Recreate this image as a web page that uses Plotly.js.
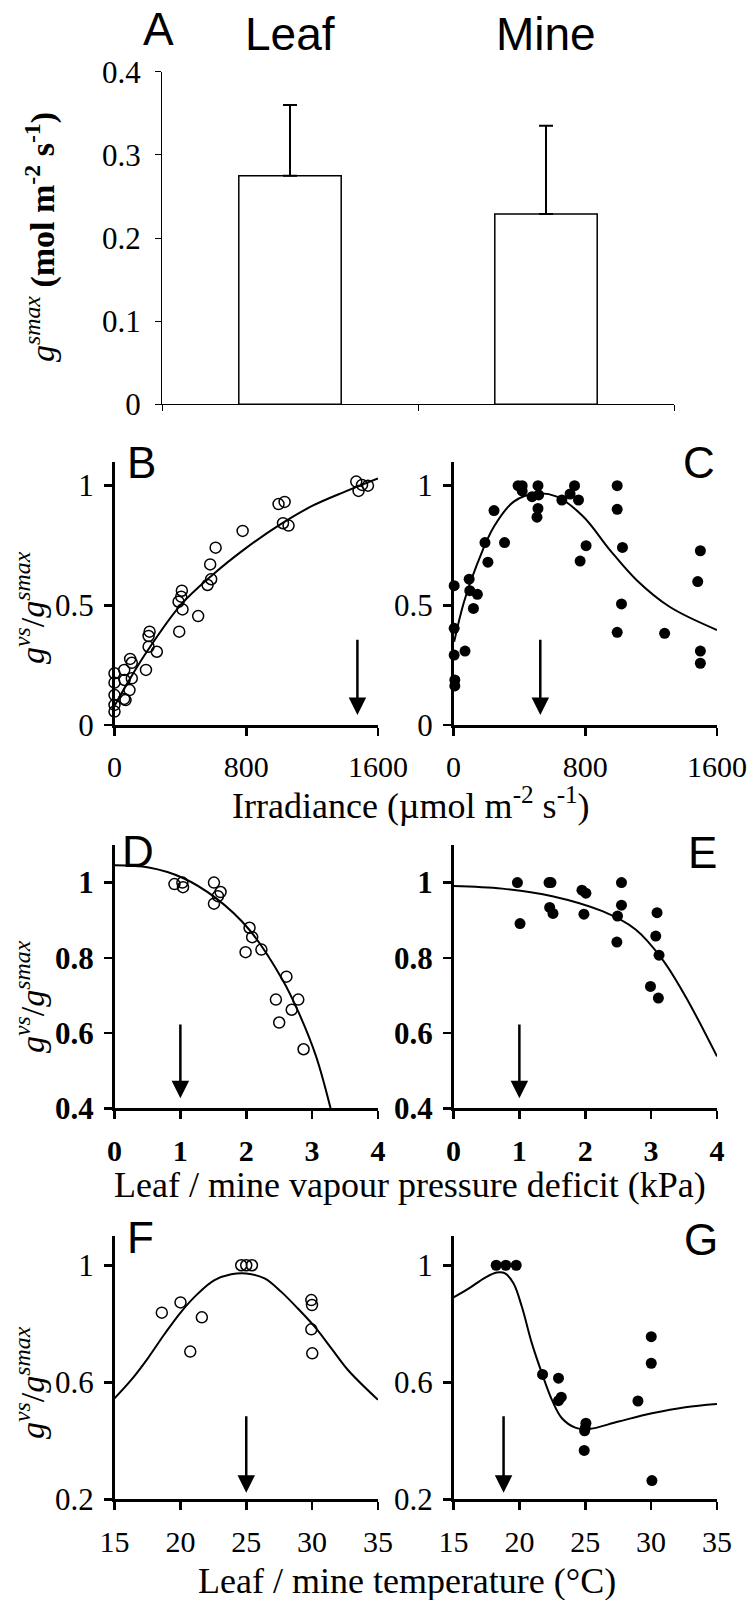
<!DOCTYPE html>
<html><head><meta charset="utf-8">
<script src="https://cdn.plot.ly/plotly-3.0.1.min.js"></script>
<style>body{margin:0;background:#fff}</style>
</head><body>
<div id="chart" style="width:747px;height:1600px"></div>
<script>
// ---------- Panel A: g_smax bars ----------
const barCategories = ['Leaf', 'Mine'];
const barMeans = [0.275, 0.229];
const barErrors = [0.085, 0.106];
const barTicks = [0, 0.1, 0.2, 0.3, 0.4];

// ---------- Panel B: irradiance, leaf ----------
const irrLeafX = [0,0,0,0,0,59,67,91,105,61,59,95,105,191,207,207,213,257,393,389,409,405,413,508,565,587,581,614,778,996,1033,1023,1057,1468,1482,1503,1539];
const irrLeafY = [0.056,0.084,0.125,0.177,0.216,0.109,0.104,0.146,0.195,0.188,0.23,0.276,0.26,0.23,0.327,0.372,0.39,0.306,0.39,0.515,0.561,0.536,0.483,0.455,0.585,0.609,0.671,0.741,0.811,0.923,0.932,0.843,0.833,1.017,0.978,1.003,1.0];
const irrLeafFitX = [0,100,200,400,600,800,1000,1200,1400,1600];
const irrLeafFitY = [0.08,0.2,0.31,0.5,0.63,0.74,0.835,0.915,0.975,1.03];

// ---------- Panel C: irradiance, mine ----------
const irrMineX = [4,4,4,8,8,70,95,99,121,145,191,209,246,310,392,417,417,477,513,517,513,507,658,708,735,759,805,769,994,994,1026,1020,994,1282,1499,1483,1499,1499];
const irrMineY = [0.582,0.404,0.292,0.188,0.163,0.309,0.609,0.561,0.487,0.546,0.762,0.68,0.896,0.762,1.0,1.0,0.978,0.954,1.0,0.961,0.905,0.868,0.94,0.965,1.0,0.94,0.749,0.685,1.0,0.901,0.742,0.506,0.387,0.383,0.728,0.599,0.309,0.258];
const irrMineFitX = [4,64,145,246,366,507,628,789,950,1111,1312,1600];
const irrMineFitY = [0.348,0.515,0.675,0.829,0.933,0.968,0.954,0.87,0.731,0.606,0.494,0.397];

// ---------- Panel D: VPD, leaf ----------
const vpdLeafX = [0.91,1.03,1.04,1.51,1.61,1.57,1.51,2.05,2.09,1.99,2.23,2.61,2.45,2.79,2.69,2.50,2.87];
const vpdLeafY = [0.996,1.0,0.988,1.0,0.975,0.964,0.944,0.88,0.855,0.815,0.822,0.75,0.689,0.689,0.662,0.628,0.557];
const vpdLeafFitX = [0,0.52,1.03,1.53,2.04,2.55,2.80,3.06,3.28];
const vpdLeafFitY = [1.046,1.04,1.013,0.96,0.876,0.742,0.653,0.538,0.4];

// ---------- Panel E: VPD, mine ----------
const vpdMineX = [0.97,1.01,1.45,1.48,1.46,1.51,1.95,2.01,1.98,2.55,2.55,2.49,2.48,3.09,3.07,3.12,2.99,3.11];
const vpdMineY = [1.0,0.891,1.0,1.0,0.934,0.918,0.98,0.972,0.916,1.0,0.94,0.911,0.842,0.92,0.858,0.807,0.724,0.693];
const vpdMineFitX = [0,0.74,1.5,2.26,2.76,3.17,3.52,4.0];
const vpdMineFitY = [0.991,0.984,0.964,0.924,0.876,0.796,0.698,0.538];

// ---------- Panel F: temperature, leaf ----------
const tempLeafX = [18.59,20.01,21.63,20.75,24.62,25.0,25.43,29.94,29.99,29.94,30.01];
const tempLeafY = [0.838,0.873,0.822,0.705,1.0,1.0,1.0,0.881,0.864,0.781,0.699];
const tempLeafFitX = [15,16.27,17.53,18.8,20.06,21.33,22.59,23.86,25,26.39,27.66,28.92,30.19,31.46,32.72,35];
const tempLeafFitY = [0.545,0.608,0.682,0.765,0.841,0.903,0.949,0.969,0.972,0.955,0.909,0.852,0.79,0.716,0.642,0.54];

// ---------- Panel G: temperature, mine ----------
const tempMineX = [18.24,18.97,19.76,21.76,22.97,23.18,22.97,25.05,25.0,24.95,24.92,29.0,30.01,30.01,30.06];
const tempMineY = [1.0,1.0,1.0,0.627,0.614,0.549,0.537,0.46,0.443,0.434,0.367,0.536,0.756,0.665,0.264];
const tempMineFitX = [15,16.14,17.41,18.29,18.92,19.56,20.19,20.95,21.71,22.47,23.23,24.24,25.25,27.53,30.06,32.59,35];
const tempMineFitY = [0.89,0.92,0.958,0.975,0.972,0.9375,0.858,0.733,0.631,0.54,0.477,0.445,0.44,0.466,0.494,0.515,0.526];

// ---------- arrows (growth conditions) ----------
const arrowPanels = ['B','C','D','E','F','G'];
const arrowX    = [1475, 527, 1, 1, 25, 18.8];
const arrowTail = [0.362, 0.362, 0.627, 0.627, 0.489, 0.489];
const arrowTip  = [0.042, 0.042, 0.427, 0.427, 0.222, 0.222];

// ---------- tick labels ----------
const irrTicks = [0, 800, 1600];
const irrYTicks = [0, 0.5, 1];
const vpdTicks = [0, 1, 2, 3, 4];
const vpdYTicks = [0.4, 0.6, 0.8, 1];
const tempTicks = [15, 20, 25, 30, 35];
const tempYTicks = [0.2, 0.6, 1];

// ---------- layout helpers ----------
const W = 747, H = 1600;
const fx = p => p / W;
const fy = p => 1 - p / H;
const SERIF = 'Liberation Serif, Times New Roman, serif';
const SANS = 'Liberation Sans, Arial, sans-serif';

const xTickFont = {family: SERIF, size: 30, color: '#000'};
const yTickFont = {family: SERIF, size: 31, color: '#000'};
const xTickBold = {family: SERIF, size: 30, color: '#000', weight: 'bold'};
const yTickBold = {family: SERIF, size: 31, color: '#000', weight: 'bold'};

function axisBase(extra) {
  return Object.assign({
    showgrid: false, zeroline: false, showline: true,
    linecolor: '#000', linewidth: 2.5,
    ticks: 'outside', ticklen: 8, tickwidth: 2.5, tickcolor: '#000',
    tickfont: yTickFont,
    ticklabeloverflow: 'allow',
    fixedrange: true
  }, extra);
}

const traces = [];
traces.push({
  type: 'bar', x: barCategories, y: barMeans, xaxis: 'x', yaxis: 'y',
  width: 0.4,
  marker: {color: '#fff', line: {color: '#000', width: 1.5}},
  error_y: {type: 'data', array: barErrors, symmetric: false, arrayminus: barMeans.map(() => 0),
            color: '#000', thickness: 2, width: 7}
});

function scatterPair(xs, ys, fitX, fitY, ax, filled) {
  traces.push({
    type: 'scatter', mode: 'lines', x: fitX, y: fitY, xaxis: 'x' + ax, yaxis: 'y' + ax,
    line: {color: '#000', width: 2, shape: 'spline', smoothing: 1}, cliponaxis: false
  });
  traces.push({
    type: 'scatter', mode: 'markers', x: xs, y: ys, xaxis: 'x' + ax, yaxis: 'y' + ax,
    marker: filled ? {symbol: 'circle', size: 11, color: '#000'}
                   : {symbol: 'circle-open', size: 11, color: '#000', line: {width: 1.5, color: '#000'}},
    cliponaxis: false
  });
}
scatterPair(irrLeafX, irrLeafY, irrLeafFitX, irrLeafFitY, 2, false);
scatterPair(irrMineX, irrMineY, irrMineFitX, irrMineFitY, 3, true);
scatterPair(vpdLeafX, vpdLeafY, vpdLeafFitX, vpdLeafFitY, 4, false);
scatterPair(vpdMineX, vpdMineY, vpdMineFitX, vpdMineFitY, 5, true);
scatterPair(tempLeafX, tempLeafY, tempLeafFitX, tempLeafFitY, 6, false);
scatterPair(tempMineX, tempMineY, tempMineFitX, tempMineFitY, 7, true);

const rowB = [fy(725), fy(461.7)];
const rowD = [fy(1108.3), fy(845)];
const rowF = [fy(1499.3), fy(1236)];
const colL = [fx(114.5), fx(378)];
const colR = [fx(453.5), fx(717)];

const layout = {
  width: W, height: H, margin: {l: 0, r: 0, t: 0, b: 0},
  paper_bgcolor: '#fff', plot_bgcolor: 'rgba(0,0,0,0)', showlegend: false,
  bargap: 0,
  xaxis: axisBase({domain: [fx(162), fx(674)], anchor: 'y', type: 'category', range: [-0.5, 1.5],
    tickson: 'boundaries', showticklabels: false, linewidth: 1, tickwidth: 1, ticklen: 6}),
  yaxis: axisBase({domain: [fy(404.3), fy(71.7)], anchor: 'x', range: [0, 0.4], tickvals: barTicks,
    linewidth: 1, tickwidth: 1, ticklen: 6, ticklabelstandoff: 8}),
  xaxis2: axisBase({domain: colL, anchor: 'y2', range: [0, 1600], tickvals: irrTicks, ticklabelstandoff: 5, tickfont: xTickFont}),
  yaxis2: axisBase({domain: rowB, anchor: 'x2', range: [0, 1.1], tickvals: irrYTicks, ticklabelstandoff: 4}),
  xaxis3: axisBase({domain: colR, anchor: 'y3', range: [0, 1600], tickvals: irrTicks, ticklabelstandoff: 5, tickfont: xTickFont}),
  yaxis3: axisBase({domain: rowB, anchor: 'x3', range: [0, 1.1], tickvals: irrYTicks, ticklabelstandoff: 4}),
  xaxis4: axisBase({domain: colL, anchor: 'y4', range: [0, 4], tickvals: vpdTicks, ticklabelstandoff: 6, tickfont: xTickBold}),
  yaxis4: axisBase({domain: rowD, anchor: 'x4', range: [0.4, 1.1], tickvals: vpdYTicks, ticklabelstandoff: 4, tickfont: yTickBold}),
  xaxis5: axisBase({domain: colR, anchor: 'y5', range: [0, 4], tickvals: vpdTicks, ticklabelstandoff: 6, tickfont: xTickBold}),
  yaxis5: axisBase({domain: rowD, anchor: 'x5', range: [0.4, 1.1], tickvals: vpdYTicks, ticklabelstandoff: 4, tickfont: yTickBold}),
  xaxis6: axisBase({domain: colL, anchor: 'y6', range: [15, 35], tickvals: tempTicks, ticklabelstandoff: 6, tickfont: xTickFont}),
  yaxis6: axisBase({domain: rowF, anchor: 'x6', range: [0.2, 1.1], tickvals: tempYTicks, ticklabelstandoff: 4}),
  xaxis7: axisBase({domain: colR, anchor: 'y7', range: [15, 35], tickvals: tempTicks, ticklabelstandoff: 6, tickfont: xTickFont}),
  yaxis7: axisBase({domain: rowF, anchor: 'x7', range: [0.2, 1.1], tickvals: tempYTicks, ticklabelstandoff: 4}),
  annotations: []
};

const ann = layout.annotations;
function paperText(text, px, py, size, family, angle) {
  ann.push({xref: 'paper', yref: 'paper', x: fx(px), y: fy(py), text: text, showarrow: false,
    xanchor: 'center', yanchor: 'middle', textangle: angle || 0,
    font: {family: family, size: size, color: '#000'}});
}
// panel letters and bar category labels
paperText('A', 158.5, 29, 46, SANS);
barCategories.forEach((c, i) => {
  ann.push({xref: 'x', yref: 'paper', x: i, y: fy(34), text: c, showarrow: false,
    xanchor: 'center', yanchor: 'middle', font: {family: SANS, size: 46, color: '#000'}});
});
paperText('B', 141.5, 463, 44, SANS);
paperText('C', 699, 462, 44, SANS);
paperText('D', 138, 851, 44, SANS);
paperText('E', 702, 852, 44, SANS);
paperText('F', 140.5, 1237, 44, SANS);
paperText('G', 701, 1239, 44, SANS);

// axis titles
const ratioTitle = '<i>g</i><sup><i>vs</i></sup>/<i>g</i><sup><i>smax</i></sup>';
paperText('<i>g</i><sup><i>smax</i></sup> <b>(mol m<sup>-2</sup> s<sup>-1</sup>)</b>', 40, 237, 34, SERIF, -90);
paperText(ratioTitle, 30, 608, 34, SERIF, -90);
paperText(ratioTitle, 30, 997, 34, SERIF, -90);
paperText(ratioTitle, 30, 1383, 34, SERIF, -90);
paperText('Irradiance (µmol m<sup>-2</sup> s<sup>-1</sup>)', 411, 804, 36, SERIF);
paperText('Leaf / mine vapour pressure deficit (kPa)', 410, 1185, 36, SERIF);
paperText('Leaf / mine temperature (°C)', 407, 1581, 36, SERIF);

// arrows
arrowPanels.forEach((p, i) => {
  const ax = String(i + 2);
  ann.push({xref: 'x' + ax, yref: 'y' + ax, axref: 'x' + ax, ayref: 'y' + ax,
    x: arrowX[i], y: arrowTip[i], ax: arrowX[i], ay: arrowTail[i], text: '',
    showarrow: true, arrowhead: 2, arrowsize: 1.4, arrowwidth: 2.5, arrowcolor: '#000', standoff: 0});
});

Plotly.newPlot('chart', traces, layout, {displayModeBar: false, staticPlot: true});
</script>
</body></html>
